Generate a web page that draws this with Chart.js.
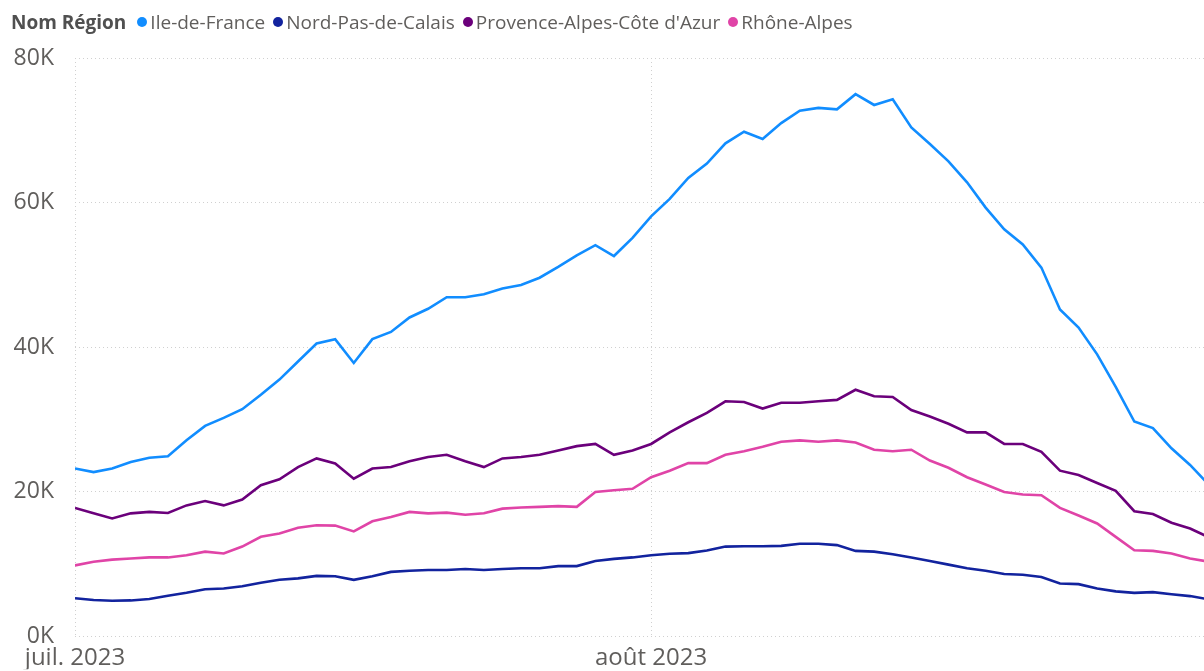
<!DOCTYPE html>
<html>
<head>
<meta charset="utf-8">
<script src="https://cdn.jsdelivr.net/npm/chart.js@4.4.1/dist/chart.umd.min.js"></script>
<style>
  html, body { margin: 0; padding: 0; background: #fff; }
  #wrap { position: relative; width: 1204px; height: 671px; overflow: hidden; }
  #legend {
    position: absolute; left: 11px; top: 9px;
    display: flex; align-items: center;
    font-family: "Segoe UI", "Open Sans", sans-serif; font-size: 19px; color: #605E5C;
    white-space: nowrap;
  }
  #legend .title { font-weight: bold; color: #505050; margin-right: 11px; }
  #legend .item { display: flex; align-items: center; margin-right: 8px; }
  #legend .dot { width: 10px; height: 10px; border-radius: 50%; margin-right: 3px; }
  canvas { position: absolute; left: 0; top: 0; }
</style>
</head>
<body>
<div id="wrap">
  <canvas id="graphique" width="1204" height="671"></canvas>
  <div id="legend"></div>
</div>
<script>
// valeurs journalières du 1er juillet au 31 août 2023 (en milliers)
const regions = ["Ile-de-France", "Nord-Pas-de-Calais", "Provence-Alpes-Côte d'Azur", "Rhône-Alpes"];
const couleurs = ["#118DFF", "#12239E", "#6B007B", "#E044A7"];

const ileDeFrance = [23.2, 22.7, 23.2, 24.1, 24.7, 24.9, 27.1, 29.1, 30.2, 31.4,
  33.4, 35.5, 38.0, 40.5, 41.1, 37.8, 41.1, 42.1, 44.1, 45.3,
  46.9, 46.9, 47.3, 48.1, 48.6, 49.6, 51.1, 52.7, 54.1, 52.6,
  55.1, 58.1, 60.5, 63.4, 65.4, 68.2, 69.8, 68.8, 71.0, 72.7,
  73.1, 72.9, 75.0, 73.5, 74.3, 70.4, 68.1, 65.7, 62.8, 59.3,
  56.3, 54.2, 51.0, 45.2, 42.7, 39.0, 34.5, 29.7, 28.8, 26.0,
  23.7, 21.0];
const nordPasDeCalais = [5.25, 5.0, 4.9, 4.95, 5.15, 5.6, 6.0, 6.5, 6.6, 6.9,
  7.4, 7.8, 8.0, 8.35, 8.3, 7.8, 8.3, 8.9, 9.05, 9.15,
  9.15, 9.3, 9.15, 9.3, 9.4, 9.4, 9.7, 9.7, 10.4, 10.7,
  10.9, 11.2, 11.4, 11.5, 11.85, 12.4, 12.45, 12.45, 12.5, 12.8,
  12.8, 12.6, 11.8, 11.7, 11.35, 10.9, 10.4, 9.9, 9.4, 9.05,
  8.6, 8.5, 8.2, 7.3, 7.2, 6.6, 6.2, 6.0, 6.1, 5.8,
  5.55, 5.1];
const provence = [17.75, 17.0, 16.3, 17.0, 17.2, 17.05, 18.1, 18.7, 18.1, 18.9,
  20.9, 21.7, 23.4, 24.6, 23.9, 21.8, 23.2, 23.4, 24.2, 24.8,
  25.1, 24.2, 23.4, 24.6, 24.8, 25.1, 25.7, 26.3, 26.6, 25.1,
  25.7, 26.6, 28.2, 29.6, 30.9, 32.5, 32.4, 31.5, 32.3, 32.3,
  32.5, 32.7, 34.1, 33.2, 33.1, 31.3, 30.4, 29.4, 28.2, 28.2,
  26.6, 26.6, 25.5, 22.9, 22.3, 21.2, 20.1, 17.3, 16.9, 15.7,
  14.9, 13.7];
const rhoneAlpes = [9.8, 10.3, 10.6, 10.75, 10.9, 10.9, 11.2, 11.7, 11.45, 12.4,
  13.75, 14.2, 15.0, 15.35, 15.3, 14.5, 15.9, 16.5, 17.2, 17.0,
  17.1, 16.8, 17.0, 17.65, 17.8, 17.9, 18.0, 17.9, 19.95, 20.2,
  20.4, 22.0, 22.9, 23.95, 23.95, 25.1, 25.6, 26.2, 26.9, 27.1,
  26.9, 27.1, 26.8, 25.8, 25.6, 25.8, 24.3, 23.3, 22.0, 21.0,
  19.95, 19.6, 19.5, 17.75, 16.7, 15.6, 13.75, 11.9, 11.8, 11.45,
  10.75, 10.3];

const xTickDays = [0, 31];
const xTickLabels = ["juil. 2023", "août 2023"];
const yTicks = [0, 20, 40, 60, 80];

const series = [ileDeFrance, nordPasDeCalais, provence, rhoneAlpes];
const police = "'Segoe UI', 'Open Sans', sans-serif";
const gris = "#605E5C";

// légende HTML (titre + pastilles)
const legend = document.getElementById("legend");
legend.innerHTML = '<span class="title">Nom Région</span>' +
  regions.map((r, i) =>
    `<span class="item"><span class="dot" style="background:${couleurs[i]}"></span>${r}</span>`
  ).join("");

const datasets = series.map((vals, i) => ({
  label: regions[i],
  data: vals.map((v, d) => ({ x: d, y: v })),
  borderColor: couleurs[i],
  backgroundColor: couleurs[i],
  borderWidth: 2.6,
  pointRadius: 0,
  tension: 0,
}));

new Chart(document.getElementById("graphique"), {
  type: "line",
  data: { datasets },
  options: {
    responsive: false,
    animation: false,
    layout: { padding: { top: 58, right: 0, bottom: 0, left: 0 } },
    plugins: { legend: { display: false }, tooltip: { enabled: false } },
    scales: {
      x: {
        type: "linear",
        min: 0,
        max: 60.75,
        afterBuildTicks: scale => { scale.ticks = xTickDays.map(v => ({ value: v })); },
        afterFit: scale => { scale.height = 33; },
        ticks: {
          color: gris,
          font: { family: police, size: 24 },
          padding: 8,
          maxRotation: 0,
          callback: v => xTickLabels[xTickDays.indexOf(v)],
        },
        grid: { color: "#D0D0D0", lineWidth: 1, drawTicks: false },
        border: { display: false, dash: [1, 3] },
      },
      y: {
        min: 0,
        max: 80,
        afterBuildTicks: scale => { scale.ticks = yTicks.map(v => ({ value: v })); },
        afterFit: scale => { scale.width = 75; },
        ticks: {
          color: gris,
          font: { family: police, size: 23 },
          padding: 21,
          callback: v => v + "K",
        },
        grid: { color: "#D0D0D0", lineWidth: 1, drawTicks: false },
        border: { display: false, dash: [1, 3] },
      },
    },
  },
});
</script>
</body>
</html>
